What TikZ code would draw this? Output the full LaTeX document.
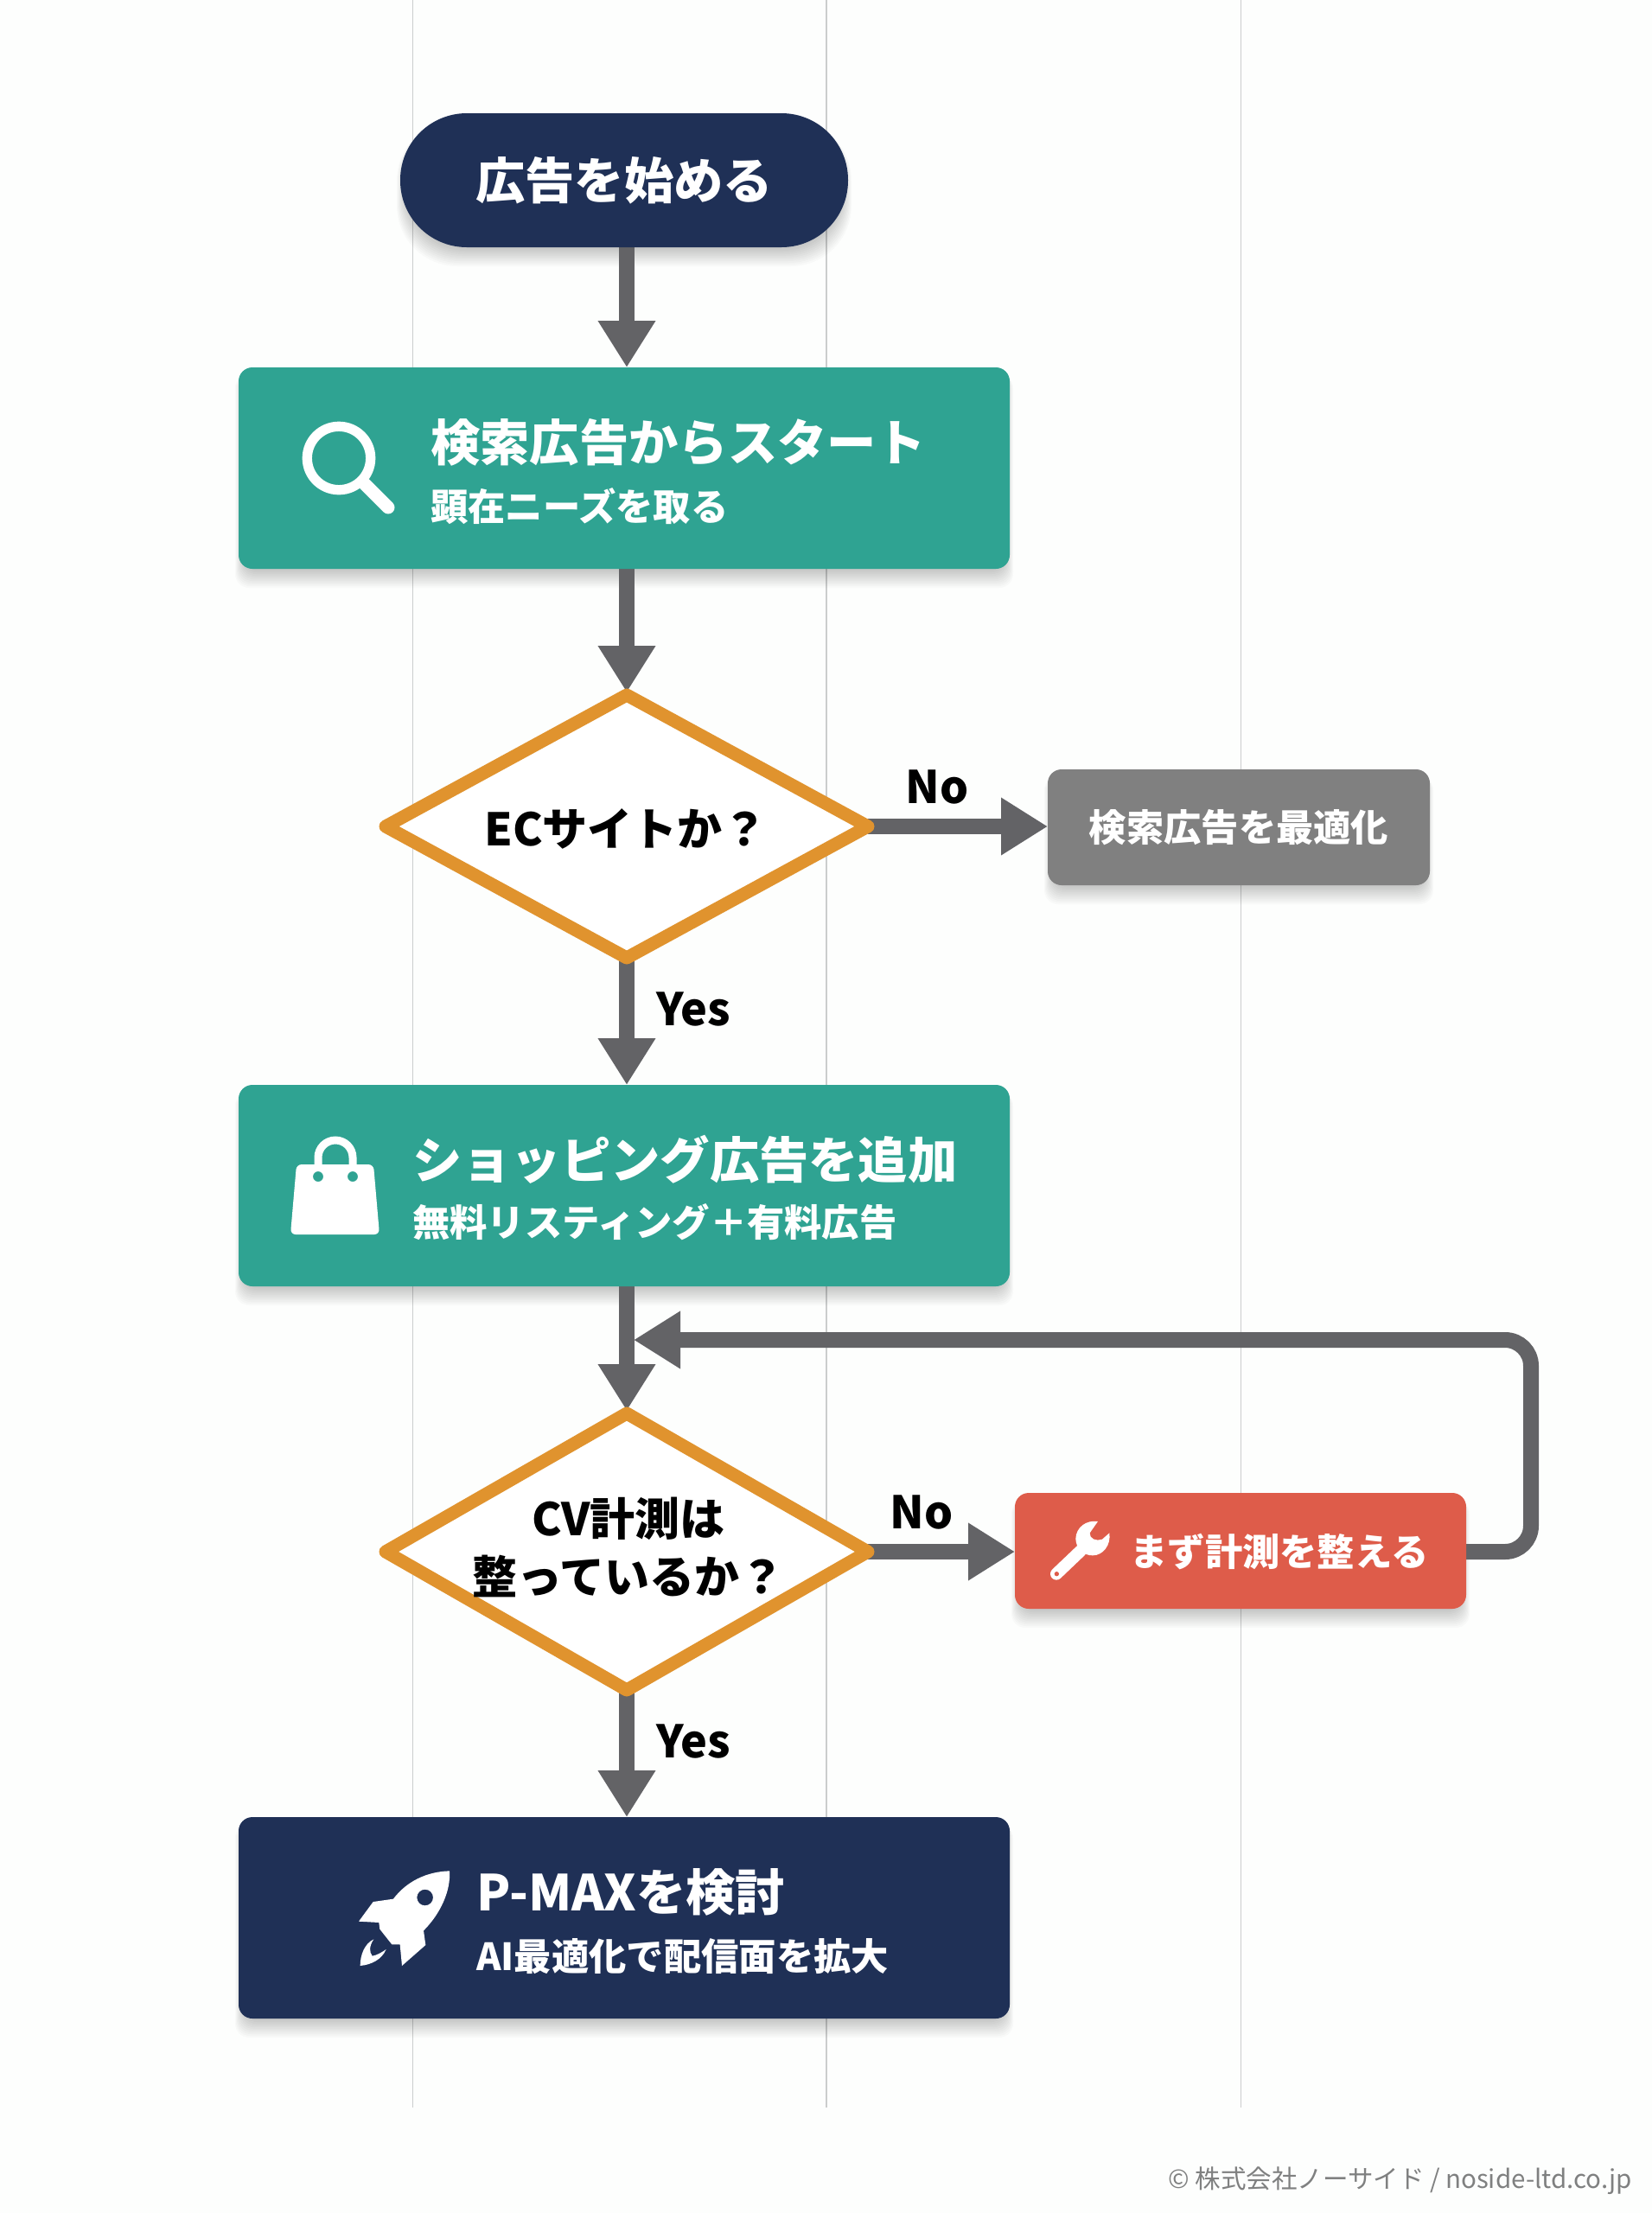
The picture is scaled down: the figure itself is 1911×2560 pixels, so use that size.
\documentclass[tikz,border=0pt]{standalone}
\usepackage{fontspec}
\setmainfont{Noto Sans CJK JP}
\usetikzlibrary{arrows.meta,calc,shapes.geometric,backgrounds}
\definecolor{teal}{HTML}{2FA392}
\definecolor{navy}{HTML}{1F3056}
\definecolor{redbox}{HTML}{DE5C4A}
\definecolor{greybox}{HTML}{808080}
\definecolor{amber}{HTML}{E0932E}
\definecolor{linegrey}{HTML}{636366}
\definecolor{paper}{HTML}{FDFEFD}
\definecolor{gridgrey}{HTML}{CBCDCD}
\definecolor{footgrey}{HTML}{7F8080}
\tikzset{
  flowbox/.style={rounded corners=16pt,inner sep=0pt,outer sep=0pt,text=white},
  widebox/.style={flowbox,minimum width=892pt,minimum height=233pt},
  smallbox/.style={flowbox,minimum height=134pt},
  decision/.style={diamond,draw=amber,fill=white,line width=15pt,line join=round,inner sep=0pt,outer sep=0pt,minimum width=558pt},
  decisiontext/.style={inner sep=0pt,align=center,text=black,font=\fontsize{52}{67}\selectfont\bfseries},
  title/.style={anchor=west,inner sep=0pt,text=white,font=\fontsize{57.3}{60}\selectfont\bfseries},
  subtitle/.style={anchor=west,inner sep=0pt,text=white,font=\fontsize{43.3}{46}\selectfont\bfseries},
  lbl/.style={inner sep=0pt,text=black,font=\fontsize{52}{56}\selectfont\bfseries},
  flowline/.style={draw=linegrey,line width=18pt,-{Triangle[length=54pt,width=63pt]}},
  gridline/.style={draw=gridgrey,line width=1.6pt},
  icon/.style={fill=white,draw=none}
}
\newcommand{\softshadow}[2]{%
  \foreach \i in {0,2,...,20}{%
    \fill[black,opacity=0.018,rounded corners=#2]
      ($(#1.south west)+(6-0.5*\i,2+\i)$) rectangle ($(#1.north east)+(-6+0.5*\i,8)$);
  }%
}
\begin{document}
\begin{tikzpicture}[x=1pt,y=-1pt]
\useasboundingbox (0,0) rectangle (1911,2560);

% nodes
\node[flowbox,fill=navy,minimum width=518pt,minimum height=155pt,rounded corners=77pt,font=\fontsize{57.3}{60}\selectfont\bfseries] (start) at (722,208.5) {広告を始める};
\node[widebox,fill=teal] (search) at (722,541.5) {};
\node[decision,minimum height=304pt] (ec) at (725,956) {};
\node[decisiontext] (ect) at (724,959) {ECサイトか？};
\node[smallbox,fill=greybox,minimum width=442pt,font=\fontsize{43.3}{46}\selectfont\bfseries] (opt) at (1433,957) {検索広告を最適化};
\node[widebox,fill=teal] (shop) at (722,1371.5) {};
\node[decision,minimum height=320pt] (cv) at (725,1795) {};
\node[decisiontext] (cvt) at (727,1790) {CV計測は\\整っているか？};
\node[smallbox,fill=redbox,minimum width=522pt] (fix) at (1435,1794) {};
\node[widebox,fill=navy] (pmax) at (722,2218.5) {};

% box texts
\node[title] (t1) at (498,512) {検索広告からスタート};
\node[subtitle] (s1) at (498,586) {顕在ニーズを取る};
\node[title] (t2) at (477,1341) {ショッピング広告を追加};
\node[subtitle] (s2) at (477,1414) {無料リスティング＋有料広告};
\node[title] (t3) at (551,2189) {P-MAXを検討};
\node[subtitle] (s3) at (551,2263) {AI最適化で配信面を拡大};
\node[anchor=center,inner sep=0pt,text=white,font=\fontsize{43.3}{46}\selectfont\bfseries] (t4) at (1480,1795) {まず計測を整える};

% labels
\node[lbl] (no1) at (1084,910) {No};
\node[lbl] (yes1) at (802,1167) {Yes};
\node[lbl] (no2) at (1066,1749) {No};
\node[lbl] (yes2) at (802,2014) {Yes};
\node[anchor=east,inner sep=0pt,text=footgrey,font=\fontsize{29.5}{34}\selectfont] (foot) at (1888,2523) {© 株式会社ノーサイド / noside-ltd.co.jp};

% free ends of the loop
\coordinate (loopA) at (1771,1795);
\coordinate (loopB) at (1771,1550);
\coordinate (loopC) at (733,1550);

% magnifier
\draw[white,line width=11.3pt] (392,530) circle (36.7pt);
\draw[white,line width=15pt,line cap=round] (422,560) -- (449,587);

% bag
\draw[white,line width=9pt] (368,1350) -- (368,1339) arc[start angle=180,end angle=0,radius=20pt] -- (408,1350);
\fill[icon,even odd rule,rounded corners=6pt] (343,1347) -- (432,1347) -- (439,1428) -- (336,1428) -- cycle
  [sharp corners] (368,1361) circle (6pt) (408,1361) circle (6pt);

% wrench
\begin{scope}[shift={(1200,1750)},x=0.3333pt,y=-0.3333pt]
  \draw[white,line width=14pt,line cap=round] (150,132) -- (66,212);
  \fill[icon] (210,30) .. controls (170,24) and (134,50) .. (133,90)
     .. controls (134,125) and (160,148) .. (192,148)
     .. controls (228,148) and (256,112) .. (250,70)
     -- (225,92) .. controls (205,100) and (180,90) .. (182,70) -- cycle;
  \fill[redbox] (67,212) circle (8);
\end{scope}

% rocket
\begin{scope}[shift={(400,2150)},x=0.3333pt,y=-0.3333pt]
  \fill[icon,even odd rule] (360,43) .. controls (365,110) and (330,190) .. (270,250)
     -- (277,300) -- (195,372) -- (188,298) -- (160,298) -- (118,245) -- (115,222) -- (45,218)
     -- (95,150) -- (165,140) .. controls (210,80) and (280,45) .. (360,43) -- cycle
     (275,135) circle (28);
  \fill[icon] (50,372) .. controls (50,335) and (65,295) .. (97,280)
     .. controls (80,305) and (82,325) .. (92,338)
     .. controls (110,335) and (125,325) .. (140,315)
     .. controls (125,350) and (90,368) .. (50,372) -- cycle;
\end{scope}

\begin{pgfonlayer}{background}
  \fill[paper] (0,0) rectangle (1911,2560);
  \coordinate (g1a) at (477.5,0); \coordinate (g1b) at (477.5,2438);
  \coordinate (g2a) at (956,0);   \coordinate (g2b) at (956,2438);
  \coordinate (g3a) at (1435.5,0);\coordinate (g3b) at (1435.5,2438);
  \draw[gridline] (g1a) -- (g1b);
  \draw[gridline] (g2a) -- (g2b);
  \draw[gridline] (g3a) -- (g3b);
  \softshadow{start}{70pt}
  \softshadow{search}{16pt}
  \softshadow{opt}{16pt}
  \softshadow{shop}{16pt}
  \softshadow{fix}{16pt}
  \softshadow{pmax}{16pt}
  \draw[flowline] (start.south -| ec.center) -- (search.north -| ec.center);
  \draw[flowline,shorten >=3pt] (search.south -| ec.center) -- (ec.north);
  \draw[flowline] (ec.south) -- (shop.north -| ec.center);
  \draw[flowline,shorten >=3pt] (shop.south -| cv.center) -- (cv.north);
  \draw[flowline] (cv.south) -- (pmax.north -| cv.center);
  \draw[flowline] (ec.east) -- (opt.west |- ec.east);
  \draw[flowline] (cv.east) -- (fix.west |- cv.east);
  \draw[flowline,rounded corners=30pt] (fix.east |- loopA) -- (loopA) -- (loopB) -- (loopC);
\end{pgfonlayer}
\end{tikzpicture}
\end{document}
